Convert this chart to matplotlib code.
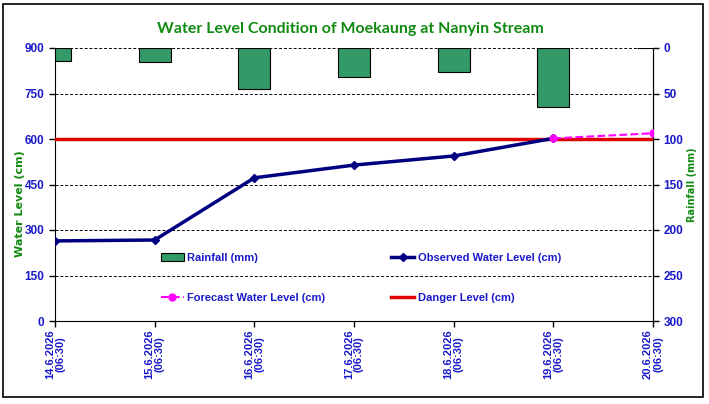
# Water level / rainfall combo chart

import matplotlib.pyplot as plt
from matplotlib.patches import Rectangle

dates = ['14.6.2026', '15.6.2026', '16.6.2026', '17.6.2026',
         '18.6.2026', '19.6.2026', '20.6.2026']
times = ['(06:30)'] * 7
rainfall = [14, 15, 45, 32, 26, 65, 0]          # mm
observed = [264, 267, 472, 514, 544, 602]       # cm
forecast = [602, 619]                           # cm, from 19.6 to 20.6
danger = [600] * 7                              # cm

blue = '#1a1acc'
green = '#118a11'
x = list(range(len(dates)))
tick_labels = [d + '\n' + t for d, t in zip(dates, times)]

plt.rcParams['font.family'] = ['Liberation Sans', 'DejaVu Sans']
fig = plt.figure(figsize=(7.09, 4.04), dpi=100)
fig.patches.append(Rectangle((3 / 709, 1 - 397 / 404), 700 / 709, 393 / 404,
                             transform=fig.transFigure, fill=False,
                             edgecolor='black', linewidth=1.2))

ax = fig.add_axes([55 / 709, 1 - 321 / 404, 598 / 709, 273 / 404])
ax2 = ax.twinx()

# rainfall bars hang from the top (inverted right axis)
ax2.set_facecolor('#ccffff')
ax2.bar(x, rainfall, width=0.32, color='#339966', edgecolor='black',
        linewidth=0.8, label='Rainfall (mm)', zorder=3)
ax2.set_ylim(300, 0)
ax2.set_yticks(range(0, 301, 50))
ax2.grid(axis='y', color='black', linestyle=(0, (3, 2)), linewidth=0.7, zorder=1)
ax2.set_ylabel('Rainfall (mm)', color=green, fontsize=7, fontweight='bold', labelpad=3,
               family=['DejaVu Sans'])

# water levels in front
ax.set_zorder(ax2.get_zorder() + 1)
ax.patch.set_visible(False)
ax.plot(x, danger, color='#e00000', linewidth=2.5, label='Danger Level (cm)', zorder=4)
ax.plot(x[:len(observed)], observed, color='#000080', linewidth=2.5, marker='D',
        markersize=4, label='Observed Water Level (cm)', zorder=5)
ax.plot(x[5:], forecast, color='#ff00ff', linewidth=1.5, linestyle='--', marker='o',
        markersize=5, label='Forecast Water Level (cm)', zorder=6)

ax.set_xlim(0, 6)
ax.set_ylim(0, 900)
ax.set_yticks(range(0, 901, 150))
ax.set_xticks(x)
ax.set_xticklabels(tick_labels, rotation=90, linespacing=1.0)
ax.set_ylabel('Water Level (cm)', color=green, fontsize=8, fontweight='bold',
              family=['DejaVu Sans'])
ax.yaxis.set_label_coords(-0.05, 0.43)

for a in (ax, ax2):
    a.tick_params(colors='black', labelcolor=blue, labelsize=8.5, length=4, width=1)
    for lbl in a.get_yticklabels():
        lbl.set_fontweight('bold')
    a.spines['top'].set_visible(False)
ax.tick_params(axis='x', pad=2)
for lbl in ax.get_xticklabels():
    lbl.set_fontweight('bold')
    lbl.set_fontsize(8)
ax2.spines['left'].set_visible(False)
ax2.spines['bottom'].set_visible(False)

h1, l1 = ax2.get_legend_handles_labels()
h2, l2 = ax.get_legend_handles_labels()
handles = [h1[0], h2[2], h2[1], h2[0]]
labels = [l1[0], l2[2], l2[1], l2[0]]
leg = ax.legend(handles, labels, ncol=2, loc='lower left', bbox_to_anchor=(0.16, 0.03),
                frameon=False, prop={'size': 8, 'weight': 'bold'}, handlelength=2.1,
                handletextpad=0.3, columnspacing=5.9, labelspacing=2.7)
for t in leg.get_texts():
    t.set_color(blue)

fig.text(350 / 709, 1 - 29 / 404, 'Water Level Condition of Moekaung at Nanyin Stream',
         ha='center', va='center', color=green, fontsize=11.5, fontweight='bold',
         family=['Lato', 'DejaVu Sans'])

plt.savefig('out.png', dpi=100)
